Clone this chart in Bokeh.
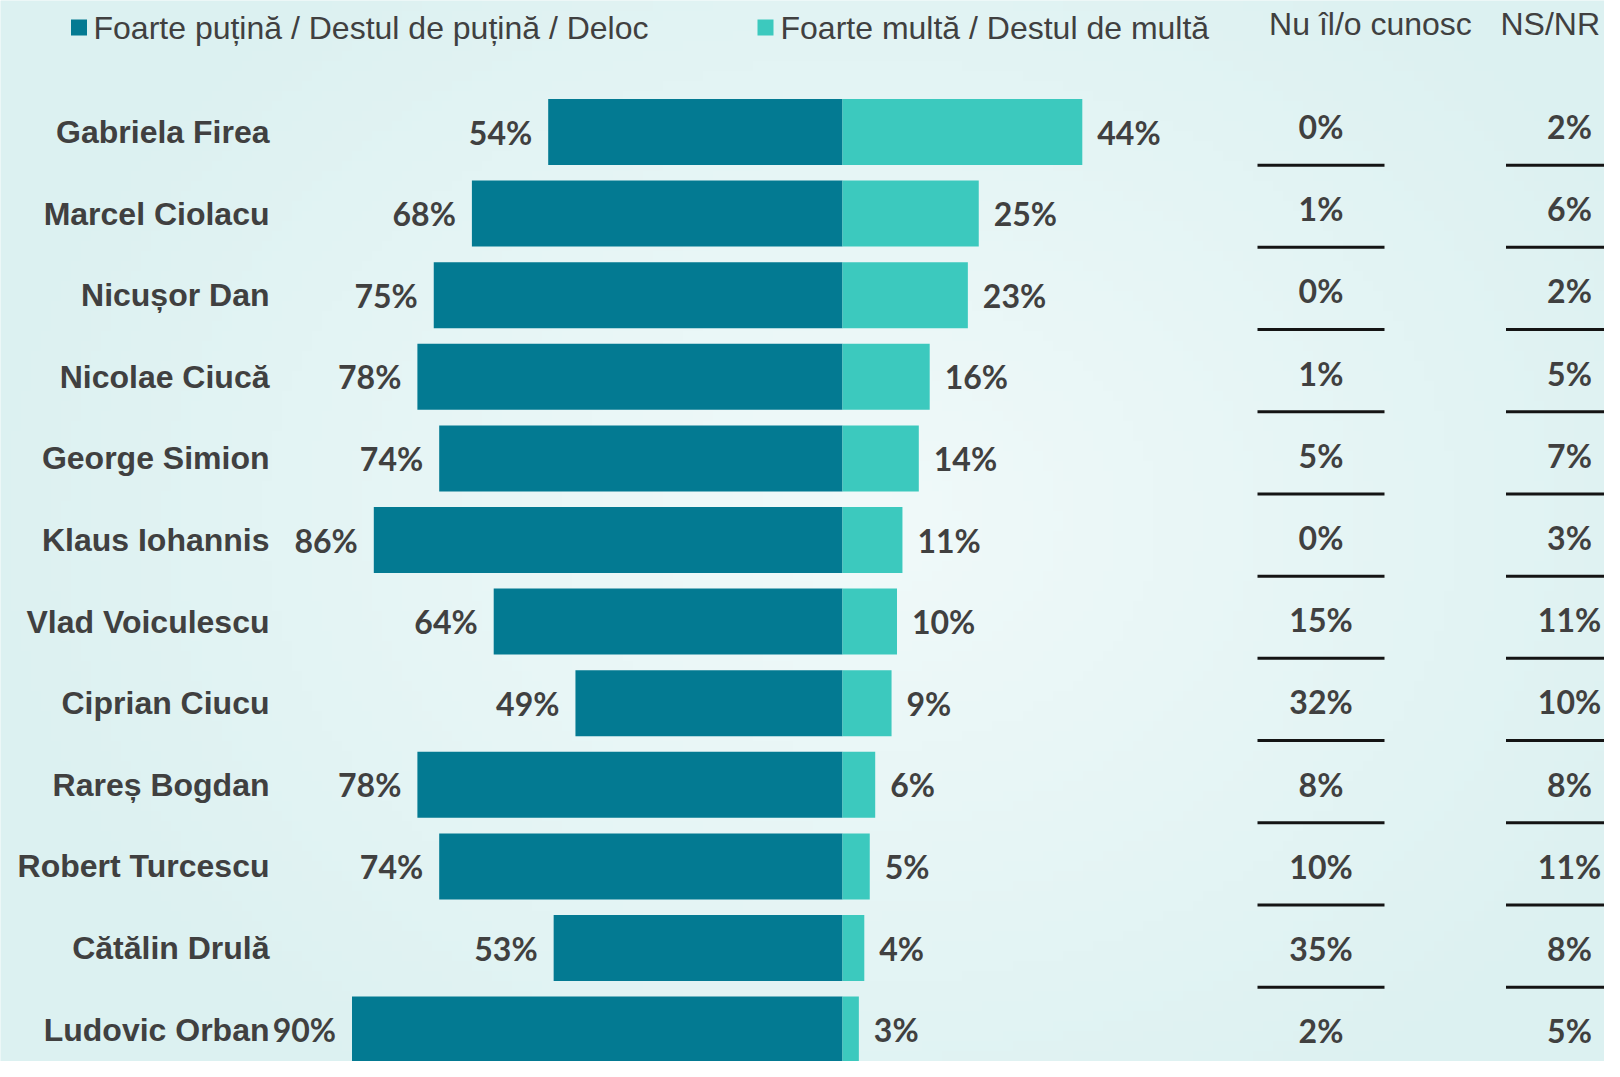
import numpy as np
from bokeh.plotting import figure
from bokeh.models import ColumnDataSource, Range1d, Label
from bokeh.core.properties import value
from bokeh.embed import file_html
from bokeh.resources import INLINE

# ---------------- data ----------------
names = ["Gabriela Firea", "Marcel Ciolacu", "Nicușor Dan", "Nicolae Ciucă",
         "George Simion", "Klaus Iohannis", "Vlad Voiculescu", "Ciprian Ciucu",
         "Rareș Bogdan", "Robert Turcescu", "Cătălin Drulă", "Ludovic Orban"]
low = [54, 68, 75, 78, 74, 86, 64, 49, 78, 74, 53, 90]      # Foarte puțină / Destul de puțină / Deloc
high = [44, 25, 23, 16, 14, 11, 10, 9, 6, 5, 4, 3]          # Foarte multă / Destul de multă
nu_cunosc = [0, 1, 0, 1, 5, 0, 15, 32, 8, 10, 35, 2]        # Nu îl/o cunosc
nsnr = [2, 6, 2, 5, 7, 3, 11, 10, 8, 11, 8, 5]              # NS/NR

legend_low = "Foarte puțină / Destul de puțină / Deloc"
legend_high = "Foarte multă / Destul de multă"
header_nu = "Nu îl/o cunosc"
header_ns = "NS/NR"

# ---------------- style ----------------
DARK = "#037a92"
LIGHT = "#3cc9be"
TXT = "#404040"
BG = "#e6f5f5"

W, H = 1604, 1061
X0, SX = 842.0, 5.45          # px of the 0 line, px per percent
Y0, SY = 131.5, 81.6          # px of first row centre, px per row
T0, TY = 126.0, 82.2          # table rows


def X(px):
    return (px - X0) / SX


def Y(py):
    return (py - Y0) / SY


def T(py):
    return (py - T0) / TY


rows = list(range(len(names)))
src = ColumnDataSource(dict(
    row=rows,
    name=names,
    low_left=[-v for v in low],
    high_right=high,
    zero=[0] * len(rows),
    low_lbl=[f"{v}%" for v in low],
    high_lbl=[f"{v}%" for v in high],
    low_lx=[-v - 16 / SX for v in low],
    high_lx=[v + 15 / SX for v in high],
    nu_lbl=[f"{v}%" for v in nu_cunosc],
    ns_lbl=[f"{v}%" for v in nsnr],
))

p = figure(width=W, height=H, output_backend="svg", toolbar_location=None,
           x_range=Range1d(X(0), X(W)),
           y_range=Range1d(Y(H), Y(0)),
           min_border=0, background_fill_color=BG, border_fill_color=BG,
           outline_line_color=None)
p.extra_y_ranges = {"tbl": Range1d(T(H), T(0))}
p.xaxis.visible = False
p.yaxis.visible = False
p.grid.visible = False

# subtle radial background
gw, gh = 160, 106
gx = np.linspace(0, W, gw)[None, :]
gy = np.linspace(0, H, gh)[:, None]
d = np.sqrt(((gx - 860) / 900.0) ** 2 + ((gy - 520) / 700.0) ** 2)
d = np.clip(d, 0, 1)
c_in = np.array([241, 250, 250])
c_out = np.array([220, 241, 241])
img = np.empty((gh, gw), dtype=np.uint32)
view = img.view(dtype=np.uint8).reshape((gh, gw, 4))
for k in range(3):
    view[:, :, k] = (c_in[k] + (c_out[k] - c_in[k]) * d).astype(np.uint8)
view[:, :, 3] = 255
p.image_rgba(image=[img], x=X(0), y=Y(0), dw=X(W) - X(0), dh=Y(H) - Y(0))

bh = 66.0 / SY
p.hbar(y="row", left="low_left", right="zero", height=bh, source=src,
       fill_color=DARK, line_color=None)
p.hbar(y="row", left="zero", right="high_right", height=bh, source=src,
       fill_color=LIGHT, line_color=None)

# names
p.text(x=X(269), y="row", text="name", source=src, text_align="right",
       text_baseline="middle", text_font=value("Liberation Sans"),
       text_font_style="bold", text_font_size="32px", text_color=TXT)

# bar labels
p.text(x="low_lx", y="row", text="low_lbl", source=src, text_align="right",
       text_baseline="middle", text_font=value("Lato"), text_font_style="bold",
       text_font_size="32px", text_color=TXT)
p.text(x="high_lx", y="row", text="high_lbl", source=src, text_align="left",
       text_baseline="middle", text_font=value("Lato"), text_font_style="bold",
       text_font_size="32px", text_color=TXT)

# table columns
NU_C, NS_C, HALF = X(1320.5), X(1569), 63.5 / SX
p.text(x=NU_C, y="row", text="nu_lbl", source=src, y_range_name="tbl",
       text_align="center", text_baseline="middle", text_font=value("Lato"),
       text_font_style="bold", text_font_size="32px", text_color=TXT)
p.text(x=NS_C, y="row", text="ns_lbl", source=src, y_range_name="tbl",
       text_align="center", text_baseline="middle", text_font=value("Lato"),
       text_font_style="bold", text_font_size="32px", text_color=TXT)

line_y = [r + 0.47 for r in rows[:-1]]
for c in (NU_C, NS_C):
    p.segment(x0=[c - HALF] * len(line_y), x1=[c + HALF] * len(line_y),
              y0=line_y, y1=line_y, y_range_name="tbl",
              line_color="#141414", line_width=3)

# legend / headers
p.scatter(x=[X(78.5), X(765)], y=[Y(27), Y(27)], marker="square",
          size=16, fill_color=[DARK, LIGHT], line_color=None)
for txt, px, py in ((legend_low, 93, 27), (legend_high, 780, 27),
                    (header_nu, 1268.6, 23), (header_ns, 1500, 23)):
    p.add_layout(Label(x=X(px), y=Y(py), text=txt, text_align="left",
                       text_baseline="middle", text_font="Liberation Sans",
                       text_font_size="32px", text_color=TXT))

open("out.html", "w").write(file_html(p, INLINE))
